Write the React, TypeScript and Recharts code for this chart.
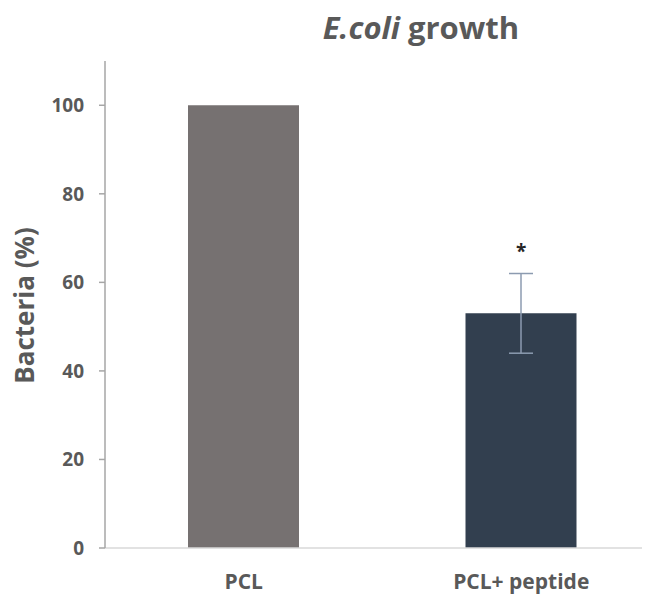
import React from 'react';
import { BarChart, Bar, XAxis, YAxis, ErrorBar, Cell, ReferenceDot, Customized } from 'recharts';

const categories = ['PCL', 'PCL+ peptide'];
const values = [100, 53];
const errors = [0, 9];
const barColors = ['#767171', '#323F4F'];
const sigMarks = ['', '*'];
const sigLevels = [0, 67];
const yTicks = [0, 20, 40, 60, 80, 100];

const data = categories.map((c, i) => ({ name: c, value: values[i], err: errors[i] }));

const FONT = '"Open Sans", sans-serif';
const TXT = '#595959';

const Title = () => (
  <text x={421} y={39} textAnchor="middle" fontFamily={FONT} fontWeight={700} fontSize={31} fill={TXT}>
    <tspan fontStyle="italic">E.coli</tspan>
    <tspan> growth</tspan>
  </text>
);

export default function App() {
  return (
    <div style={{ margin: '-8px 0 0 -8px', width: 650, height: 596 }}>
      <BarChart width={650} height={596} data={data} margin={{ top: 61, right: -10, left: 0, bottom: 0 }}>
        <XAxis
          dataKey="name"
          height={48}
          tickLine={false}
          axisLine={{ stroke: '#D9D9D9', strokeWidth: 1.5 }}
          tickMargin={20}
          tick={{ fontFamily: FONT, fontWeight: 700, fontSize: 21, fill: TXT }}
        />
        <YAxis
          width={105}
          domain={[0, 110]}
          ticks={yTicks}
          tickSize={6}
          tickMargin={15}
          axisLine={{ stroke: '#A6A6A6', strokeWidth: 1.5 }}
          tickLine={{ stroke: '#A6A6A6', strokeWidth: 1.5 }}
          tick={{ fontFamily: FONT, fontWeight: 700, fontSize: 19, fill: TXT }}
          label={{
            content: (props: any) => {
              const vb = props.viewBox;
              const cx = vb.x + 24;
              const cy = vb.y + vb.height / 2 + 1;
              return (
                <text
                  x={cx}
                  y={cy}
                  transform={`rotate(-90 ${cx} ${cy})`}
                  textAnchor="middle"
                  dominantBaseline="central"
                  fontFamily={FONT}
                  fontWeight={700}
                  fontSize={26}
                  fill={TXT}
                >
                  Bacteria (%)
                </text>
              );
            },
          }}
        />
        <Bar dataKey="value" barSize={111} isAnimationActive={false}>
          {data.map((d, i) => (
            <Cell key={d.name} fill={barColors[i]} />
          ))}
          <ErrorBar dataKey="err" width={12} stroke="#8C9BB0" strokeWidth={1.5} direction="y" />
        </Bar>
        {categories.map((c, i) =>
          sigMarks[i] ? (
            <ReferenceDot
              key={c}
              x={c}
              y={sigLevels[i]}
              r={0}
              fill="none"
              stroke="none"
              label={{ value: sigMarks[i], position: 'center', fontFamily: FONT, fontWeight: 700, fontSize: 19, fill: '#262626' }}
            />
          ) : null
        )}
        <Customized component={Title} />
      </BarChart>
    </div>
  );
}
